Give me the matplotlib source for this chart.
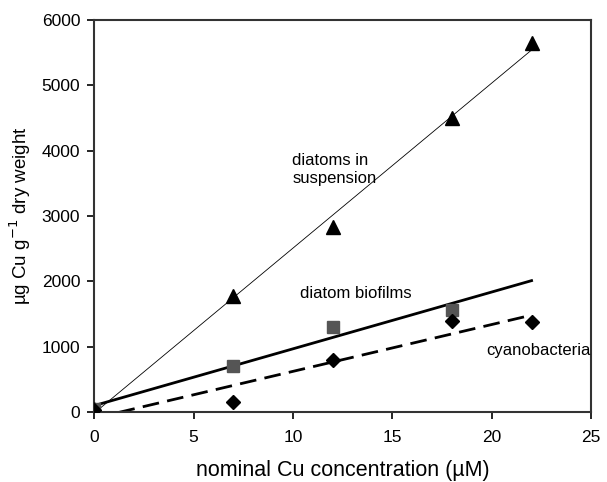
import numpy as np
import matplotlib
matplotlib.use("Agg")
import matplotlib.pyplot as plt

plt.rcParams['font.family'] = ['Liberation Sans', 'DejaVu Sans']

conc = [0, 7, 12, 18, 22]
suspension = [50, 1780, 2830, 4500, 5650]
biofilm_x = [0, 7, 12, 18]
biofilm = [50, 700, 1300, 1560]
cyano = [30, 150, 800, 1400, 1380]

xticks = [0, 5, 10, 15, 20, 25]
yticks = [0, 1000, 2000, 3000, 4000, 5000, 6000]

fig = plt.figure(figsize=(6.07, 4.82), dpi=100)
ax = fig.add_axes([0.155, 0.145, 0.819, 0.814])

def fitline(x, y, xmax):
    p = np.polyfit(x, y, 1)
    xs = np.array([0, xmax])
    return xs, np.polyval(p, xs)

xend = max(conc)
xs, ys = fitline(conc, suspension, xend)
ax.plot(xs, ys, color='black', lw=0.6, zorder=2)
xs, ys = fitline(biofilm_x, biofilm, xend)
ax.plot(xs, ys, color='black', lw=2.0, zorder=2)
xs, ys = fitline(conc, cyano, xend)
ax.plot(xs, ys, color='black', lw=2.0, ls=(0, (6, 3)), zorder=2)

ax.plot(conc, suspension, '^', color='black', ms=10.5, ls='none', zorder=3)
ax.plot(biofilm_x, biofilm, 's', color='#555555', ms=9, ls='none', zorder=3)
ax.plot(conc, cyano, 'D', color='black', ms=7, ls='none', zorder=4)

ax.text(9.96, 3710, 'diatoms in\nsuspension', fontsize=12, ha='left', va='center', linespacing=1.25)
ax.text(10.36, 1810, 'diatom biofilms', fontsize=12, ha='left', va='center')
ax.text(19.72, 935, 'cyanobacteria', fontsize=12, ha='left', va='center')

ax.set_xlim(0, 25)
ax.set_ylim(0, 6000)
ax.set_xticks(xticks)
ax.set_yticks(yticks)
ax.tick_params(direction='out', length=5, width=1.2, labelsize=12.5)
ax.tick_params(axis='y', pad=5)
ax.tick_params(axis='x', pad=8)
for s in ax.spines.values():
    s.set_color('#333333')
    s.set_linewidth(1.5)
ax.set_xlabel('nominal Cu concentration (\u00b5M)', fontsize=15.5, labelpad=11)
ax.set_ylabel('\u00b5g Cu g$^{-1}$ dry weight', fontsize=13.5, labelpad=6)

fig.savefig('out.png', dpi=100)
